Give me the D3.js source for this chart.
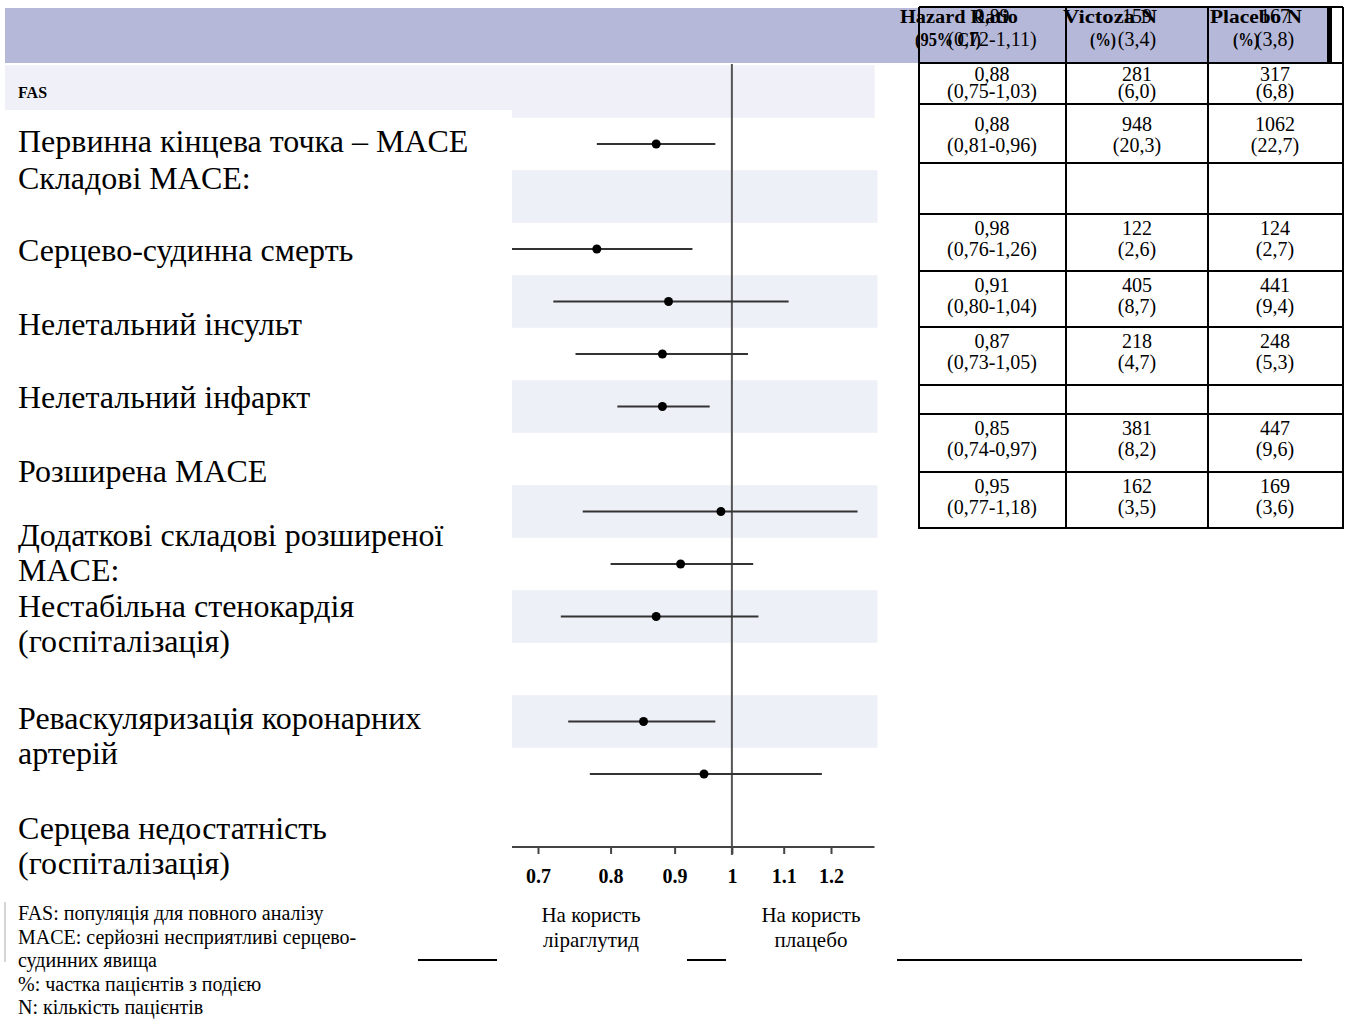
<!DOCTYPE html>
<html>
<head>
<meta charset="utf-8">
<script src="https://cdn.jsdelivr.net/npm/d3@7"></script>
<style>
  body { margin: 0; background: #fff; }
  svg { display: block; }
  text { font-family: 'Liberation Serif', 'Times New Roman', serif; fill: #000; }
</style>
</head>
<body>
<div class="canvas"></div>
<script>
// forest plot rows (row index, HR, 95% CI)
const rowIndex = [0, 2, 3, 4, 5, 7, 8, 9, 11, 12];
const hazardRatio = [0.87, 0.78, 0.89, 0.88, 0.88, 0.98, 0.91, 0.87, 0.85, 0.95];
const ciLow = [0.78, 0.66, 0.72, 0.75, 0.81, 0.76, 0.8, 0.73, 0.74, 0.77];
const ciHigh = [0.97, 0.93, 1.11, 1.03, 0.96, 1.26, 1.04, 1.05, 0.97, 1.18];
const shadedRows = [-1, 1, 3, 5, 7, 9, 11];
const tickValues = [0.7, 0.8, 0.9, 1, 1.1, 1.2];
const tickLabels = ['0.7', '0.8', '0.9', '1', '1.1', '1.2'];
const axisExtent = [0.66, 1.3];

const labelLines = [
  'Первинна кінцева точка – MACE',
  'Складові MACE:',
  'Серцево-судинна смерть',
  'Нелетальний інсульт',
  'Нелетальний інфаркт',
  'Розширена MACE',
  'Додаткові складові розширеної',
  'MACE:',
  'Нестабільна стенокардія',
  '(госпіталізація)',
  'Реваскуляризація коронарних',
  'артерій',
  'Серцева недостатність',
  '(госпіталізація)'
];

// table
const headerTop = ['Hazard Ratio', 'Victoza N', 'Placebo N'];
const headerBottom = ['(95% CI)', '(%)', '(%)'];
const hiddenTop = ['0,89', '159', '167'];
const hiddenBottom = ['(0,72-1,11)', '(3,4)', '(3,8)'];
const tableHR = ['0,88', '0,88', '', '0,98', '0,91', '0,87', '', '0,85', '0,95'];
const tableCI = ['(0,75-1,03)', '(0,81-0,96)', '', '(0,76-1,26)', '(0,80-1,04)', '(0,73-1,05)', '', '(0,74-0,97)', '(0,77-1,18)'];
const victozaN = ['281', '948', '', '122', '405', '218', '', '381', '162'];
const victozaPct = ['(6,0)', '(20,3)', '', '(2,6)', '(8,7)', '(4,7)', '', '(8,2)', '(3,5)'];
const placeboN = ['317', '1062', '', '124', '441', '248', '', '447', '169'];
const placeboPct = ['(6,8)', '(22,7)', '', '(2,7)', '(9,4)', '(5,3)', '', '(9,6)', '(3,6)'];

const footnotes = [
  'FAS: популяція для повного аналізу',
  'MACE: серйозні несприятливі серцево-',
  'судинних явища',
  '%: частка пацієнтів з подією',
  'N: кількість пацієнтів'
];
const favourLeft = ['На користь', 'ліраглутид'];
const favourRight = ['На користь', 'плацебо'];

const canvasWidth = 1349;
const canvasHeight = 1021;

const svg = d3
  .select('.canvas')
  .append('svg')
  .attr('width', canvasWidth)
  .attr('height', canvasHeight);

// scales
const x = d3.scaleLog().domain([0.7, 1.2]).range([538, 831]);
const y = d3.scaleLinear().domain([0, 12]).range([144, 774]);
const rowStep = y(1) - y(0);
const axisY = 847;

// header band + FAS band
svg.append('rect').attr('x', 5).attr('y', 8).attr('width', 1323).attr('height', 55).attr('fill', '#b5b8d9');
svg
  .append('rect')
  .attr('x', 5)
  .attr('y', y(-1) - rowStep / 2)
  .attr('width', x(axisExtent[1]) - 5)
  .attr('height', rowStep)
  .attr('fill', '#eff0f8');

// shaded rows
svg
  .append('g')
  .selectAll('rect')
  .data(shadedRows.filter(d => d >= 0))
  .enter()
  .append('rect')
  .attr('x', x(axisExtent[0]))
  .attr('y', d => y(d) - rowStep / 2)
  .attr('width', x(axisExtent[1]) - x(axisExtent[0]) + 3)
  .attr('height', rowStep)
  .attr('fill', '#eef0f8');

// reference line at HR = 1
svg
  .append('line')
  .attr('x1', x(1))
  .attr('x2', x(1))
  .attr('y1', 64)
  .attr('y2', axisY + 8)
  .attr('stroke', '#555')
  .attr('stroke-width', 2);

// confidence intervals
const ci = svg.append('g');
ci.selectAll('line')
  .data(rowIndex)
  .enter()
  .append('line')
  .attr('x1', (d, i) => x(ciLow[i]))
  .attr('x2', (d, i) => x(ciHigh[i]))
  .attr('y1', d => y(d))
  .attr('y2', d => y(d))
  .attr('stroke', '#333')
  .attr('stroke-width', 2);
ci.selectAll('circle')
  .data(rowIndex)
  .enter()
  .append('circle')
  .attr('cx', (d, i) => x(hazardRatio[i]))
  .attr('cy', d => y(d))
  .attr('r', 4.5)
  .attr('fill', '#000');

// axis
const xAxis = d3
  .axisBottom(x)
  .tickValues(tickValues)
  .tickFormat((d, i) => tickLabels[i])
  .tickSize(7)
  .tickSizeOuter(0);
const xAxisGroup = svg.append('g').attr('transform', `translate(0, ${axisY})`).call(xAxis);
xAxisGroup.select('.domain').remove();
xAxisGroup.selectAll('.tick line').attr('stroke', '#444').attr('stroke-width', 2);
xAxisGroup
  .selectAll('.tick text')
  .attr('y', 36)
  .attr('dy', 0)
  .attr('font-size', 20)
  .attr('font-weight', 'bold')
  .attr('font-family', "'Liberation Serif', serif");
xAxisGroup
  .append('line')
  .attr('x1', x(axisExtent[0]))
  .attr('x2', x(axisExtent[1]))
  .attr('stroke', '#444')
  .attr('stroke-width', 2);

// white box over the left labels
svg.append('rect').attr('x', 0).attr('y', 110).attr('width', 512).attr('height', 790).attr('fill', '#fff');

const labelBaselines = [152, 189, 261, 335, 408, 482, 546, 581, 617, 652, 729, 764, 839, 874];
svg
  .append('g')
  .selectAll('text')
  .data(labelLines)
  .enter()
  .append('text')
  .attr('x', 18)
  .attr('y', (d, i) => labelBaselines[i])
  .attr('font-size', 32)
  .text(d => d);

svg
  .append('text')
  .attr('x', 18)
  .attr('y', 98)
  .attr('font-family', "'DejaVu Serif', serif")
  .attr('font-weight', 'bold')
  .attr('font-size', 16)
  .text('FAS');

// table
const colEdges = [919, 1066, 1208, 1343];
const colCenters = [992, 1137, 1275];
const rowEdges = [63, 104, 163, 214, 271, 327, 385, 414, 472, 528];
const firstBaselines = [81, 131, 0, 235, 292, 348, 0, 435, 493];
const table = svg.append('g');

table.append('rect').attr('x', 1333).attr('y', 8).attr('width', 10).attr('height', 55).attr('fill', '#fff');

const headerBoxes = [[900, 118, 915, 66], [1063, 94, 1090, 26], [1210, 92, 1233, 26]];
headerTop.forEach((t, i) => {
  table
    .append('text')
    .attr('x', headerBoxes[i][0])
    .attr('y', 23)
    .attr('font-size', 18)
    .attr('font-weight', 'bold')
    .attr('textLength', headerBoxes[i][1])
    .attr('lengthAdjust', 'spacingAndGlyphs')
    .text(t);
  table
    .append('text')
    .attr('x', headerBoxes[i][2])
    .attr('y', 46)
    .attr('font-size', 18)
    .attr('font-weight', 'bold')
    .attr('textLength', headerBoxes[i][3])
    .attr('lengthAdjust', 'spacingAndGlyphs')
    .text(headerBottom[i]);
  table.append('text').attr('x', colCenters[i]).attr('y', 23).attr('text-anchor', 'middle').attr('font-size', 20).text(hiddenTop[i]);
  table.append('text').attr('x', colCenters[i]).attr('y', 46).attr('text-anchor', 'middle').attr('font-size', 20).text(hiddenBottom[i]);
});

const columns = [[tableHR, tableCI], [victozaN, victozaPct], [placeboN, placeboPct]];
columns.forEach((col, c) => {
  col[0].forEach((v, r) => {
    if (!v) return;
    const b = firstBaselines[r];
    table.append('text').attr('x', colCenters[c]).attr('y', b).attr('text-anchor', 'middle').attr('font-size', 20).text(v);
    table
      .append('text')
      .attr('x', colCenters[c])
      .attr('y', b + (r === 0 ? 17 : 21))
      .attr('text-anchor', 'middle')
      .attr('font-size', 20)
      .text(col[1][r]);
  });
});

// grid lines
table
  .selectAll('.h')
  .data([7].concat(rowEdges))
  .enter()
  .append('line')
  .attr('x1', colEdges[0])
  .attr('x2', colEdges[3])
  .attr('y1', d => d)
  .attr('y2', d => d)
  .attr('stroke', '#000')
  .attr('stroke-width', 2);
table
  .selectAll('.v')
  .data(colEdges)
  .enter()
  .append('line')
  .attr('x1', d => d)
  .attr('x2', d => d)
  .attr('y1', 7)
  .attr('y2', 529)
  .attr('stroke', '#000')
  .attr('stroke-width', 2);
table.append('rect').attr('x', 1327).attr('y', 7).attr('width', 5).attr('height', 56).attr('fill', '#000');

// bottom rule and favour labels
svg.append('line').attr('x1', 418).attr('x2', 1302).attr('y1', 960).attr('y2', 960).attr('stroke', '#000').attr('stroke-width', 2);
svg.append('rect').attr('x', 497).attr('y', 890).attr('width', 190).attr('height', 85).attr('fill', '#fff');
svg.append('rect').attr('x', 726).attr('y', 890).attr('width', 171).attr('height', 85).attr('fill', '#fff');
[[favourLeft, 591], [favourRight, 811]].forEach(([lines, cx]) => {
  lines.forEach((t, i) => {
    svg.append('text').attr('x', cx).attr('y', 922 + i * 25).attr('text-anchor', 'middle').attr('font-size', 21).text(t);
  });
});

// footnotes
svg.append('line').attr('x1', 5).attr('x2', 5).attr('y1', 902).attr('y2', 962).attr('stroke', '#aaa').attr('stroke-width', 1);
svg
  .append('g')
  .selectAll('text')
  .data(footnotes)
  .enter()
  .append('text')
  .attr('x', 18)
  .attr('y', (d, i) => 920 + i * 23.5)
  .attr('font-size', 20)
  .text(d => d);
</script>
</body>
</html>
